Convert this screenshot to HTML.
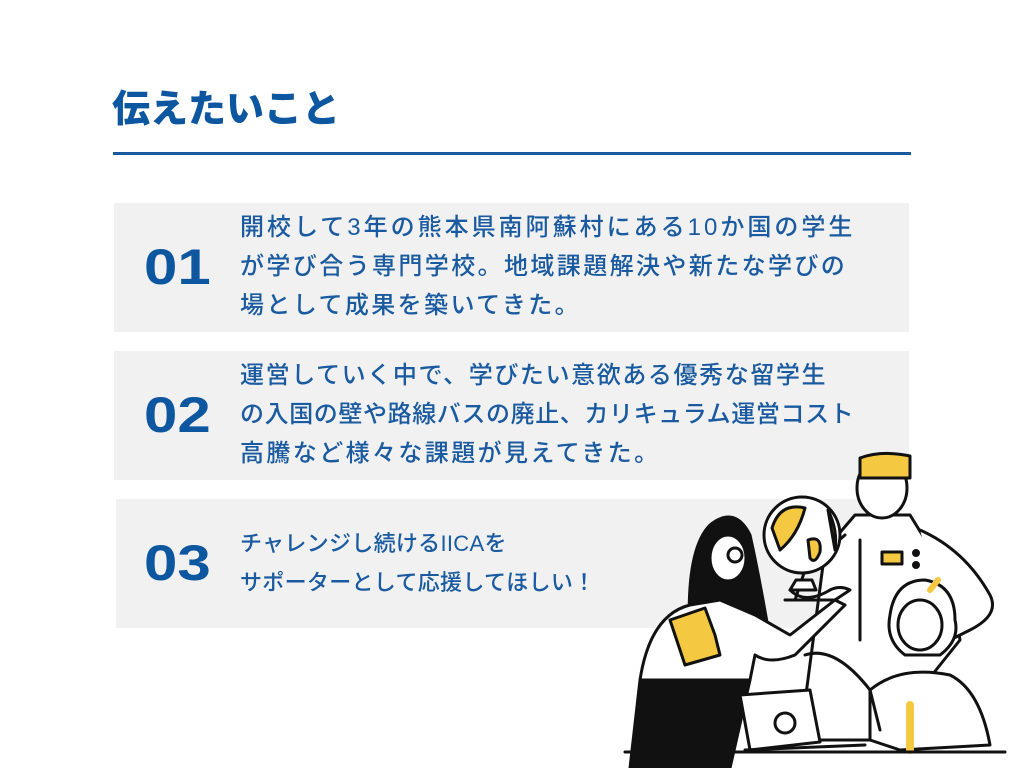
<!DOCTYPE html>
<html><head><meta charset="utf-8"><style>
body{margin:0;width:1024px;height:768px;background:#fff;position:relative;overflow:hidden;font-family:"Liberation Sans","Noto Sans CJK JP",sans-serif;}
.t{position:absolute;left:112px;top:78px;font-size:38px;font-weight:900;color:#0d56a0;}
.ln{position:absolute;left:113px;top:152px;width:798px;height:3px;background:#1a5aa0;}
.b{position:absolute;background:#f1f1f1;height:129px;}
.n{position:absolute;left:30px;top:0;height:129px;line-height:129px;font-size:50px;font-weight:900;color:#0d56a0;transform:scaleX(1.2);transform-origin:left center;}
.x{position:absolute;left:126px;top:5px;font-size:24px;line-height:39px;color:#1a5aa0;font-weight:500;letter-spacing:2.4px;white-space:nowrap;}
</style></head><body>
<div class="t">伝えたいこと</div>
<div class="ln"></div>
<div class="b" style="left:114px;top:203px;width:795px"><div class="n">01</div><div class="x"><span style="letter-spacing:3px">開校して3年の熊本県南阿蘇村にある10か国の学生</span><br>が学び合う専門学校。地域課題解決や新たな学びの<br>場として成果を築いてきた。</div></div>
<div class="b" style="left:114px;top:351px;width:795px"><div class="n">02</div><div class="x"><span style="letter-spacing:1.6px">運営していく中で、学びたい意欲ある優秀な留学生</span><br><span style="letter-spacing:0.6px">の入国の壁や路線バスの廃止、カリキュラム運営コスト</span><br>高騰など様々な課題が見えてきた。</div></div>
<div class="b" style="left:116px;top:499px;width:755px"><div class="n" style="left:28px">03</div><div class="x" style="left:124px;top:25px;font-size:22px;letter-spacing:0.3px">チャレンジし続けるIICAを<br>サポーターとして応援してほしい！</div></div>
<svg style="position:absolute;left:620px;top:440px" width="404" height="328" viewBox="0 0 404 328" fill="none" stroke="#111" stroke-width="3" stroke-linejoin="round" stroke-linecap="round">
<path d="M235 75 L205 110 L180 300 L300 300 L300 250 L340 200 L330 140 L290 75 Z" fill="#fff"/>
<path d="M300 90 Q345 110 370 155 Q380 175 350 190 L330 200" fill="#fff"/>
<path d="M225 95 L185 130 L175 160" />
<ellipse cx="262" cy="48" rx="25" ry="30" fill="#fff"/>
<path d="M240 18 Q262 10 290 16 L290 38 L240 38 Z" fill="#f5c842"/>
<rect x="262" y="112" width="20" height="12" fill="#f5c842"/>
<circle cx="296" cy="113" r="2.5" fill="#111"/><circle cx="296" cy="125" r="2.5" fill="#111"/>
<path d="M240 100 L240 200"/>
<circle cx="182" cy="95" r="38" fill="#fff"/>
<path d="M152 88 Q160 62 185 68 Q178 95 160 110 Z" fill="#f5c842"/>
<path d="M188 100 Q202 95 200 112 Q195 125 190 118 Z" fill="#f5c842"/>
<path d="M208 70 Q218 90 215 110 Z" fill="#f5c842"/>
<path d="M176 140 L192 140 L196 150 L170 150 Z" fill="#fff"/>
<path d="M170 150 Q185 165 210 150 Q220 145 230 150 L215 160 L165 160"/>
<path d="M70 200 Q65 110 90 85 Q115 65 130 95 Q140 140 150 200 Z" fill="#111"/>
<ellipse cx="108" cy="118" rx="18" ry="23" fill="#fff"/>
<circle cx="115" cy="115" r="7" fill="#fff"/>
<path d="M20 240 Q30 175 70 165 L100 160 L135 175 L170 195 L215 160 L225 165 L175 215 Q150 225 135 215 L130 240 Z" fill="#fff"/>
<path d="M20 240 L10 328 L110 328 L130 240 Z" fill="#111"/>
<path d="M50 180 L85 168 L95 195 L100 215 L65 225 Z" fill="#f5c842"/>
<path d="M270 175 Q275 140 305 140 Q335 145 335 180 Q340 200 320 215 L285 215 Q265 200 270 175 Z" fill="#fff"/>
<ellipse cx="300" cy="185" rx="22" ry="25" fill="#fff"/>
<path d="M310 150 L318 140" stroke="#f5c842" stroke-width="6"/>
<path d="M250 250 Q280 225 330 235 Q360 250 370 305 L280 310 L250 300 Z" fill="#fff"/>
<path d="M185 215 Q215 205 250 250 L260 290" />
<path d="M290 265 L290 310" stroke="#f5c842" stroke-width="8"/>
<path d="M120 255 L190 250 L200 302 L130 310 Z" fill="#fff"/>
<circle cx="165" cy="283" r="10"/>
<path d="M125 310 L245 305" />
<line x1="5" y1="312" x2="385" y2="312"/>
</svg>
</body></html>
